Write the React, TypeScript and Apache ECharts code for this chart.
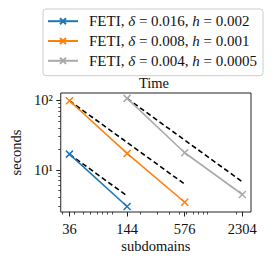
import React, { useEffect, useRef } from "react";
import * as echarts from "echarts";

// ---- data ----
const deltas = ["0.016", "0.008", "0.004"];
const hs = ["0.002", "0.001", "0.0005"];
const colors = ["#1f77b4", "#ff7f0e", "#aaaaaa"];

const subdomainsA = [36, 144];
const subdomainsB = [36, 144, 576];
const subdomainsC = [144, 576, 2304];

const secondsA = [16.8, 2.95];
const secondsB = [99, 17.2, 3.4];
const secondsC = [107, 17.6, 4.4];

// ideal-scaling (dashed) reference lines: start and end points
const idealXA = [36, 144];
const idealYA = [16.8, 4.2];
const idealXB = [36, 576];
const idealYB = [99, 6.2];
const idealXC = [144, 2304];
const idealYC = [107, 6.7];

const xTicks = [36, 144, 576, 2304];
const xMinorTicks = [30, 40, 50, 60, 70, 80, 90, 100, 200, 300, 400, 500, 600, 700, 800, 900, 1000, 2000];
const yTicks = [10, 100];
const yTickLabels: Record<number, string> = { 10: "10¹", 100: "10²" };
const yMinorTicks = [3, 4, 5, 6, 7, 8, 9, 20, 30, 40, 50, 60, 70, 80, 90];

const FONT = "Liberation Serif";
const FS = 14.5;
const TXT = "#111111";
const AX = "#222222";

const zip = (xs: number[], ys: number[]) => xs.map((x, i) => [x, ys[i]]);

const names = deltas.map((d, i) => `FETI, δ = ${d}, h = ${hs[i]}`);
const richNames: Record<string, string> = {};
deltas.forEach((d, i) => {
  richNames[names[i]] = `FETI, {i|δ} = ${d}, {i|h} = ${hs[i]}`;
});

const X_SYMBOL = "path://M0,0L10,10M10,0L0,10";

export default function App() {
  const ref = useRef<HTMLDivElement>(null);
  useEffect(() => {
    document.body.style.margin = "0";
    if (!ref.current) return;
    const chart = echarts.init(ref.current, null, { renderer: "svg" });

    const mainSeries = [
      zip(subdomainsA, secondsA),
      zip(subdomainsB, secondsB),
      zip(subdomainsC, secondsC),
    ].map((data, i) => ({
      type: "line",
      name: names[i],
      data,
      xAxisIndex: 0,
      yAxisIndex: 0,
      symbol: X_SYMBOL,
      symbolSize: 7,
      showAllSymbol: true,
      lineStyle: { color: colors[i], width: 1.6 },
      itemStyle: { color: colors[i], borderColor: colors[i], borderWidth: 1.5 },
      z: 3,
    }));

    const idealSeries = [
      zip(idealXA, idealYA),
      zip(idealXB, idealYB),
      zip(idealXC, idealYC),
    ].map((data, i) => ({
      type: "line",
      name: "ideal" + i,
      data,
      xAxisIndex: 0,
      yAxisIndex: 0,
      symbol: "none",
      lineStyle: { color: "#000000", width: 1.6, type: [5, 3] },
      z: 2,
    }));

    const tickLabelStyle = { fontFamily: FONT, fontSize: FS, color: TXT };

    chart.setOption({
      animation: false,
      backgroundColor: "#ffffff",
      grid: {
        left: 57,
        top: 93,
        width: 194,
        height: 119,
        show: true,
        borderColor: AX,
        borderWidth: 1,
        backgroundColor: "transparent",
      },
      legend: {
        data: names,
        orient: "vertical",
        left: 43,
        top: 9,
        itemWidth: 30,
        itemHeight: 7.5,
        itemGap: 4.8,
        padding: [4.7, 6, 7.4, 4],
        borderColor: "#cccccc",
        borderWidth: 1,
        borderRadius: 3,
        backgroundColor: "#ffffff",
        formatter: (n: string) => richNames[n] || n,
        textStyle: {
          fontFamily: FONT,
          fontSize: 15,
          lineHeight: 14,
          color: TXT,
          padding: [0, 0, 0, 6],
          rich: {
            i: { fontFamily: FONT, fontSize: 15, lineHeight: 14, fontStyle: "italic", color: TXT },
          },
        },
      },
      graphic: [
        {
          type: "text",
          x: 154,
          y: 75,
          style: {
            text: "Time",
            fontFamily: FONT,
            fontSize: FS,
            fill: TXT,
            textAlign: "center",
            textVerticalAlign: "top",
          },
        },
      ],
      xAxis: [
        {
          type: "log",
          logBase: 10,
          min: 29.2,
          max: 2837,
          gridIndex: 0,
          position: "bottom",
          name: "subdomains",
          nameLocation: "middle",
          nameGap: 26,
          nameTextStyle: { fontFamily: FONT, fontSize: FS, color: TXT },
          axisLine: { show: false },
          splitLine: { show: false },
          minorTick: { show: false },
          axisTick: {
            show: true,
            customValues: xTicks,
            length: 4.5,
            lineStyle: { color: AX, width: 1 },
          },
          axisLabel: {
            customValues: xTicks,
            formatter: (v: number) => String(Math.round(v)),
            margin: 9,
            ...tickLabelStyle,
          },
        },
        {
          type: "log",
          logBase: 10,
          min: 29.2,
          max: 2837,
          gridIndex: 0,
          position: "bottom",
          axisLine: { show: false },
          splitLine: { show: false },
          axisTick: {
            show: true,
            customValues: xMinorTicks,
            length: 2.5,
            lineStyle: { color: AX, width: 0.8 },
          },
          axisLabel: { show: false },
        },
      ],
      yAxis: [
        {
          type: "log",
          logBase: 10,
          min: 2.46,
          max: 128,
          gridIndex: 0,
          position: "left",
          name: "seconds",
          nameLocation: "middle",
          nameGap: 35,
          nameTextStyle: { fontFamily: FONT, fontSize: FS, color: TXT },
          axisLine: { show: false },
          splitLine: { show: false },
          minorTick: { show: false },
          axisTick: {
            show: true,
            customValues: yTicks,
            length: 4.5,
            lineStyle: { color: AX, width: 1 },
          },
          axisLabel: {
            customValues: yTicks,
            formatter: (v: number) => yTickLabels[Math.round(v)] || String(v),
            margin: 8,
            ...tickLabelStyle,
          },
        },
        {
          type: "log",
          logBase: 10,
          min: 2.46,
          max: 128,
          gridIndex: 0,
          position: "left",
          axisLine: { show: false },
          splitLine: { show: false },
          axisTick: {
            show: true,
            customValues: yMinorTicks,
            length: 2.5,
            lineStyle: { color: AX, width: 0.8 },
          },
          axisLabel: { show: false },
        },
      ],
      series: [...mainSeries, ...idealSeries],
    });

    return () => chart.dispose();
  }, []);

  return <div ref={ref} style={{ width: 275, height: 263 }} />;
}
